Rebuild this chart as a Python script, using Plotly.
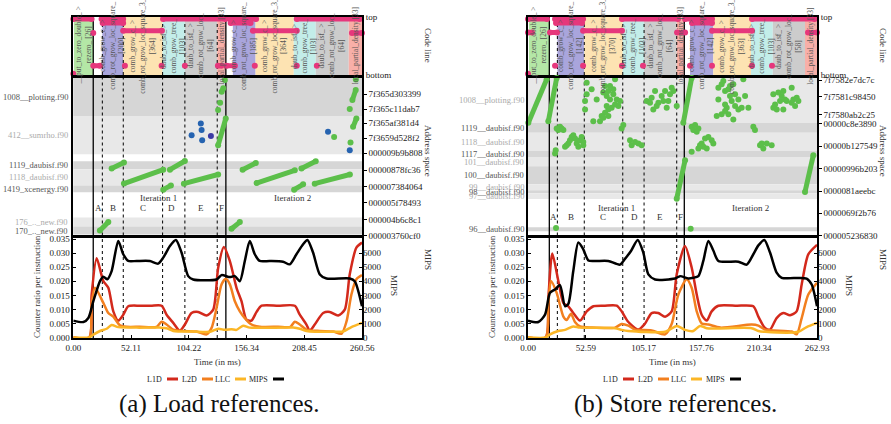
import plotly.graph_objects as go

W, H = 891, 424
FONT = "Liberation Serif"

# ======================= DATA =======================
# ---------- (a) Load references ----------
L_TMAX = 260.56
L_XTICKS = [0.00, 52.11, 104.22, 156.34, 208.45, 260.56]

L_L1D_T = [0, 14.4, 16.5, 21.1, 27.1, 31.6, 36.1, 40.6, 45.1, 49.6, 60, 70, 79.7, 84.2, 90.2, 96.2, 100.7, 106.7,
           112.7, 120.3, 126.3, 130.8, 135.9, 141.3, 147.3, 151.8, 156.3, 160.8, 165.4, 169.9, 185, 199.9, 204.4,
           210.4, 213.4, 217.9, 225.5, 231.5, 239, 245, 249.5, 255.5, 260.56]
L_L1D_V = [0, 0, 0.015, 0.0282, 0.0201, 0.0177, 0.0093, 0.006, 0.0081, 0.0111, 0.0113, 0.0113, 0.0113, 0.0081,
           0.0052, 0.0024, 0.0046, 0.0087, 0.0091, 0.0078, 0.0099, 0.0249, 0.0322, 0.0272, 0.0177, 0.0129, 0.0063,
           0.006, 0.0091, 0.0113, 0.0113, 0.0113, 0.0081, 0.0046, 0.0024, 0.0046, 0.0087, 0.0091, 0.0078, 0.0099,
           0.0225, 0.032, 0.0338]
L_L2D_T = [0, 14.4, 16.5, 19.6, 27.1, 31.6, 36.1, 42.1, 48.1, 60, 75.2, 79.7, 84.2, 90.2, 99.2, 111.2, 120.3, 124.8,
           129.3, 133.8, 137.7, 141.3, 145.8, 150.3, 154.8, 160.8, 168.3, 185, 196, 199.9, 204.4, 210.4, 222.5,
           234.5, 242, 246.6, 251, 255.5, 260.56]
L_L2D_V = [0, 0, 0.012, 0.0177, 0.0123, 0.0087, 0.0074, 0.0043, 0.0038, 0.0038, 0.0038, 0.0056, 0.0046, 0.0028,
           0.0023, 0.0021, 0.0011, 0.0034, 0.0105, 0.0189, 0.0209, 0.0189, 0.0129, 0.0093, 0.0069, 0.0046, 0.0038,
           0.0038, 0.0038, 0.0056, 0.0046, 0.0028, 0.0023, 0.0021, 0.0013, 0.0057, 0.0153, 0.0207, 0.0222]
L_LLC_T = [0, 14.4, 18.1, 24.1, 30.1, 34.6, 40.6, 57.1, 78.2, 84.2, 90.2, 108.2, 123.3, 130.8, 136.8, 142.8, 147.3,
           153.3, 159.3, 198.4, 204.4, 210.4, 237.5, 243.5, 251, 260.56]
L_LLC_V = [0, 0, 0.001, 0.0023, 0.0031, 0.0044, 0.0037, 0.0035, 0.0035, 0.0033, 0.0023, 0.0021, 0.002, 0.0031,
           0.0027, 0.0029, 0.0027, 0.0042, 0.0035, 0.0035, 0.0031, 0.0023, 0.002, 0.0021, 0.0037, 0.0052]
L_MIPS_T = [0, 9.1, 13.6, 18.1, 24.1, 27.1, 30.7, 34.6, 40.6, 45.1, 49.6, 57.1, 69.1, 76.6, 81.2, 87.2, 92.6, 97.7,
            103.7, 108.2, 129.3, 133.8, 141.3, 145.8, 150.3, 154.8, 159.3, 163.8, 168.3, 177.3, 189.3, 195.3, 201.4,
            207.4, 211.3, 216.4, 222.5, 228.5, 249.5, 254, 260.56]
L_MIPS_V = [1200, 1100, 1390, 2580, 4010, 4330, 4150, 4730, 6880, 5930, 5450, 5450, 5450, 5260, 5690, 6520, 6950,
            6050, 4370, 4130, 4130, 4440, 4300, 4370, 4010, 5450, 6880, 5930, 5450, 5450, 5400, 5210, 5930, 6640,
            6950, 6050, 4490, 4200, 4200, 4010, 2220]

L_REG_T0 = [0.6, 26.2, 45.1, 80.6, 100.7, 129.9, 144.0, 164.5, 199.0, 218.8, 248.6]
L_REG_T1 = [18.0, 45.1, 80.6, 100.7, 129.9, 137.7, 164.5, 199.0, 218.8, 248.6, 260.56]
L_REG_KIND = ["g", "p", "o", "c", "k", "r", "p", "o", "c", "k", "r"]
L_REG_TEXT = ["__put_to_zero_double_ ><br>rezero_ [26]",
              "comb_grow_c_ ><br>comb_rot_grow_loc_square_<br>[200]",
              "comb_grow_c_ ><br>comb_rot_grow_loc_square_3_<br>[364]",
              "daub_to_isf_ ><br>comb_grow_tree_<br>[103]",
              "daub_to_isf_ ><br>comb_rot_grow_loc_<br>[64]",
              "local_partial_density [33]",
              "comb_grow_c_ ><br>comb_rot_grow_loc_square_<br>[185]",
              "comb_grow_c_ ><br>comb_rot_grow_loc_square_3_<br>[364]",
              "daub_to_isf_ ><br>comb_grow_tree_<br>[103]",
              "daub_to_isf_ ><br>comb_rot_grow_loc_<br>[64]",
              "local_partial_density [33]"]
L_SOLID = [18.0, 137.7]
L_DOTTED = [26.2, 45.1, 80.6, 100.7, 129.9]

L_PINK_T0 = [0, 18.0, 25.5, 26.5, 45.0, 81.0, 138.3, 141.6, 142.0, 162.1, 201.7, 251.5]
L_PINK_T1 = [16.5, 24.0, 45.0, 45.0, 80.0, 137.5, 145.8, 165.0, 160.0, 201.7, 258.5, 260.5]
L_PINK_LV = [0.96, 0.16, 0.96, 0.89, 0.76, 0.96, 0.16, 0.96, 0.89, 0.76, 0.96, 0.72]
L_PINKDOT_T = [0.0, 18.0, 46.6, 79.7, 100.7, 130.5, 133.5, 163.8, 201.7, 219.8]
L_PINKDOT_LV = [0.02, 0.72, 0.16, 0.16, 0.16, 0.16, 0.16, 0.16, 0.16, 0.16]

L_BAND_LO = [7.58, 5.16, 4.20, 3.18, 2.74, 0.57, 0.06]
L_BAND_HI = [10.03, 7.58, 4.71, 4.20, 3.18, 1.15, 0.57]
L_BAND_DARK = [True, False, True, False, True, False, True]
L_BAND_NAME = ["1008__plotting.f90", "412__sumrho.f90", "1119_daubisf.f90", "1118_daubisf.f90",
               "1419_xcenergy.f90", "176_.._new.f90", "170_.._new.f90"]
L_HEX = ["000003760cf0", "000004b6c8c1", "000005f78493", "000007384064", "00000878fc36", "000009b9b808",
         "7f3659d528f2", "7f365af381d4", "7f365c11dab7", "7f365d303399"]
L_HEX_POS = [0, 1.02, 2.10, 3.12, 4.14, 5.22, 6.18, 7.13, 8.03, 8.98]

L_STR_T0 = [34.6, 45.7, 87.2, 81.2, 99.8, 24.0, 142.8, 152.8, 165.4, 205.9, 199.3, 217.9, 130.7, 133.9, 252.5, 251.9]
L_STR_Y0 = [4.25, 3.30, 4.18, 2.91, 3.29, 0.32, 0.43, 4.18, 3.33, 4.25, 2.91, 3.29, 5.73, 9.13, 6.90, 8.60]
L_STR_T1 = [45.7, 81.2, 100.7, 88.1, 130.7, 31.6, 150.3, 164.7, 199.9, 218.8, 207.4, 249.6, 137.6, 135.4, 255.5, 254.9]
L_STR_Y1 = [4.63, 4.18, 4.73, 3.18, 3.87, 0.85, 0.85, 4.60, 4.14, 4.71, 3.25, 3.87, 7.43, 9.34, 7.43, 9.24]
L_DOT_T = [130.7, 132.5, 136.8, 250.2, 249.5, 255.0, 235.4]
L_DOT_Y = [7.96, 8.43, 9.87, 5.90, 8.03, 9.90, 6.26]
L_BLUE_T = [106.8, 115.1, 115.8, 116.3, 229.9, 249.5]
L_BLUE_Y = [6.37, 7.11, 6.69, 6.05, 6.58, 5.41]
L_INDIGO_T = [124.2]
L_INDIGO_Y = [6.31]

L_MARK_TXT = ["A", "B", "C", "D", "E", "F"]
L_MARK_T = [22.3, 35.8, 62.8, 89.0, 115.1, 134.1]
L_ITER_T = [77.3, 198.0]

# ---------- (b) Store references ----------
R_TMAX = 262.93
R_XTICKS = [0.00, 52.59, 105.17, 157.76, 210.34, 262.93]

R_L1D_T = [0, 16.1, 18.5, 22.1, 27.6, 32.2, 36.7, 41.2, 47.3, 53.4, 59.5, 70, 80.7, 85.2, 91.3, 100.4, 106.4, 112.5,
           118.5, 124.7, 130.7, 135.3, 142.8, 148.9, 153.5, 158, 162.6, 167.1, 173.2, 190, 205, 209.6, 215.6, 220.2,
           226.2, 232.3, 238.4, 244.4, 249, 255, 262.93]
R_L1D_V = [0, 0, 0.014, 0.0299, 0.0201, 0.0123, 0.0111, 0.0087, 0.006, 0.0093, 0.0111, 0.0113, 0.0113, 0.0093,
           0.0055, 0.0028, 0.0049, 0.0087, 0.0087, 0.0074, 0.0093, 0.0225, 0.0326, 0.0249, 0.0153, 0.0081, 0.006,
           0.0093, 0.0113, 0.0113, 0.0111, 0.0074, 0.0034, 0.0028, 0.0069, 0.0087, 0.0079, 0.0093, 0.0189, 0.0296,
           0.033]
R_L2D_T = [0, 16.1, 18.5, 20.9, 26.1, 32.2, 35.2, 39.1, 42.7, 47.3, 57.9, 79.2, 85.2, 91.3, 97.4, 112.5, 124.7,
           130.7, 136.8, 144.4, 148.9, 153.5, 158, 164.1, 175, 203.5, 209.6, 215.6, 239.9, 244.4, 249, 255, 262.93]
R_L2D_V = [0, 0, 0.012, 0.0201, 0.0159, 0.0074, 0.0062, 0.0084, 0.0055, 0.0039, 0.0035, 0.0035, 0.0048, 0.0042,
           0.0028, 0.0025, 0.0011, 0.0048, 0.0153, 0.0207, 0.0177, 0.0093, 0.005, 0.0046, 0.0035, 0.0046, 0.0042,
           0.0028, 0.0021, 0.0011, 0.0069, 0.0153, 0.0195]
R_LLC_T = [0, 16.1, 20, 27.6, 33.7, 41.2, 47.3, 79.2, 85.2, 91.3, 124.7, 135.3, 142.8, 150.4, 156.5, 162.6, 203.5,
           209.6, 215.6, 246, 253.5, 262.93]
R_LLC_V = [0, 0, 0.0011, 0.0023, 0.0027, 0.0039, 0.0035, 0.0033, 0.0027, 0.0023, 0.002, 0.0041, 0.0027, 0.0023,
           0.0041, 0.0033, 0.0033, 0.0023, 0.002, 0.002, 0.0037, 0.0052]
R_MIPS_T = [0, 9.4, 15.5, 20, 24.6, 29.1, 33.7, 36.7, 41.2, 45.8, 50.3, 54.9, 61, 73, 83.7, 88.2, 93.7, 99.8, 104.9,
            109.5, 115.6, 133.8, 138.3, 145.9, 150.4, 155, 159.5, 164.1, 168.6, 173.2, 191.4, 199, 205, 209.6, 215,
            220.2, 226.2, 230.8, 253.5, 258.1, 262.93]
R_MIPS_V = [1200, 1100, 1625, 3180, 3420, 3730, 2220, 2400, 4730, 6760, 6280, 5490, 5450, 5450, 5190, 5600, 6160,
            6950, 6050, 4490, 4130, 4200, 4370, 4200, 4250, 4370, 5450, 6880, 6200, 5450, 5400, 5190, 5930, 6560,
            6950, 6050, 4620, 4250, 4200, 3770, 2220]

R_REG_T0 = [0.9, 26.7, 51.2, 86.2, 105.6, 135.3, 147.4, 168.6, 202.9, 222.7, 252.0]
R_REG_T1 = [19.1, 51.2, 86.2, 105.6, 135.3, 142.2, 168.6, 202.9, 222.7, 252.0, 262.93]
R_REG_KIND = ["g", "p", "o", "c", "k", "r", "p", "o", "c", "k", "r"]
R_REG_TEXT = ["__put_to_zero_double_ ><br>rezero_ [26]",
              "comb_grow_c_ ><br>comb_rot_grow_loc_square_<br>[142]",
              "comb_grow_c_ ><br>comb_rot_grow_loc_square_3_<br>[370]",
              "daub_to_isf_ ><br>comb_grow_tree_<br>[103]",
              "daub_to_isf_ ><br>comb_rot_grow_loc_<br>[64]",
              "local_partial_density [33]",
              "comb_grow_c_ ><br>comb_rot_grow_loc_square_<br>[142]",
              "comb_grow_c_ ><br>comb_rot_grow_loc_square_3_<br>[363]",
              "daub_to_isf_ ><br>comb_grow_tree_<br>[103]",
              "daub_to_isf_ ><br>comb_rot_grow_loc_<br>[58]",
              "local_partial_density [33]"]
R_SOLID = [19.4, 142.2]
R_DOTTED = [26.7, 51.2, 86.2, 105.6, 135.3]

R_PINK_T0 = [0, 0, 20.0, 24.6, 25.5, 50.1, 85.5, 135.6, 142.9, 149.2, 167.4, 203.8, 254.8]
R_PINK_T1 = [17.3, 3.6, 26.4, 50.1, 49.2, 85.5, 136.5, 142.9, 167.4, 167.4, 203.8, 260.7, 262.9]
R_PINK_LV = [0.96, 0.73, 0.73, 0.96, 0.89, 0.76, 0.96, 0.73, 0.96, 0.89, 0.76, 0.96, 0.73]
R_PINKDOT_T = [0.0, 24.6, 50.1, 85.5, 104.6, 147.4, 167.4, 203.8, 222.0]
R_PINKDOT_LV = [0.02, 0.16, 0.16, 0.16, 0.16, 0.16, 0.16, 0.16, 0.16]

R_BAND_LO = [7.15, 6.52, 5.37, 4.99, 4.39, 3.25, 2.87, 2.69, 2.31, 0.27]
R_BAND_HI = [10.03, 7.15, 6.52, 5.37, 4.99, 4.39, 3.25, 2.87, 2.69, 0.53]
R_BAND_DARK = [False, True, False, True, False, True, False, True, False, True]
R_BAND_NAME = ["1008__plotting.f90", "1119__daubisf.f90", "1118__daubisf.f90", "1117__daubisf.f90",
               "101__daubisf.f90", "100__daubisf.f90", "99__daubisf.f90", "98__daubisf.f90", "97__daubisf.f90",
               "96__daubisf.f90"]
R_HEX = ["000005236830", "0000069f2b76", "0000081aeebc", "00000996b203", "00000b127549", "00000c8e3890",
         "7f7580ab2c25", "7f7581c98450", "7f7582e7dc7c"]
R_HEX_POS = [0, 1.42, 2.82, 4.25, 5.67, 7.11, 7.69, 8.81, 9.87]

R_STR_T0 = [0.3, 18.5, 141.3, 135.3, 252.0]
R_STR_Y0 = [7.15, 7.26, 7.15, 2.34, 2.76]
R_STR_T1 = [17.0, 26.1, 148.9, 142.9, 259.6]
R_STR_Y1 = [9.92, 10.0, 10.0, 4.78, 5.10]
R_DOT_T = [53.4, 57.9, 53.4, 51.9, 51.9, 59.4, 65.5, 68.5, 70.1, 71.6, 73.1, 74.6, 77.6, 79.2, 79.2, 80.7, 82.2, 83.7,
           73.1, 70.1, 67.0, 73.1, 62.5, 76.1, 77.6, 74.6, 71.6, 68.5,
           108.0, 112.5, 115.6, 114.0, 117.1, 121.6, 124.7, 127.7, 130.7, 132.2, 126.2, 123.1, 118.6, 111.0, 135.3,
           129.2,
           173.2, 173.2, 176.2, 177.7, 179.3, 182.3, 183.8, 180.8, 179.3, 185.3, 186.8, 188.4, 188.4, 191.4, 194.4,
           195.9, 197.5, 200.5, 171.7, 176.2, 182.3, 186.8, 179.3, 183.8, 191.4,
           223.2, 227.8, 230.8, 232.3, 229.3, 224.8, 223.2, 226.3, 232.3, 235.4, 239.9, 241.4, 244.5, 246.0, 243.0,
           239.9, 233.8,
           27.6, 29.1, 32.2, 30.6, 26.1,
           33.7, 35.2, 36.7, 38.2, 39.7, 41.2, 42.8, 44.3, 45.8, 47.3, 48.8, 50.3, 50.3,
           24.6, 25.2, 86.7, 85.2, 92.8, 94.3, 97.4, 100.4, 103.4,
           148.9, 152.0, 155.0, 150.4, 153.5,
           155.0, 158.0, 161.1, 164.1, 167.1, 168.6, 162.6, 159.6, 156.5,
           148.9, 205.0, 206.5, 211.1, 214.1, 217.2, 221.7, 212.6,
           25.5, 148.0]
R_DOT_Y = [9.70, 9.28, 8.96, 8.54, 8.00, 7.26, 7.26, 9.07, 9.49, 8.85, 9.17, 8.64, 8.96, 9.92, 8.32, 8.64, 8.22, 8.54,
           8.00, 7.79, 7.58, 7.58, 8.64, 8.11, 9.28, 9.49, 8.22, 7.47,
           8.54, 8.75, 9.17, 8.00, 8.22, 8.85, 9.17, 8.54, 9.38, 9.17, 8.11, 8.54, 8.43, 8.43, 8.22, 8.96,
           9.38, 8.64, 9.60, 9.81, 9.17, 9.28, 9.49, 8.11, 8.32, 8.54, 9.60, 8.96, 8.22, 8.00, 8.11, 9.92, 8.85,
           8.11, 7.58, 7.69, 7.69, 7.37, 7.90, 8.85, 8.64,
           8.96, 9.07, 8.85, 9.17, 8.54, 8.32, 8.11, 8.00, 8.00, 8.54, 8.43, 8.64, 8.75, 8.54, 8.22, 9.38, 8.64,
           6.69, 6.90, 6.69, 6.79, 6.79,
           5.63, 5.73, 5.84, 6.05, 6.26, 6.37, 6.16, 5.84, 5.63, 6.05, 6.26, 5.94, 5.73,
           5.20, 5.41, 7.01, 6.79, 6.05, 5.73, 5.94, 5.84, 5.73,
           6.90, 7.01, 6.79, 6.69, 6.58,
           5.52, 5.84, 6.16, 6.26, 6.05, 5.84, 5.52, 5.63, 5.73,
           5.31, 6.90, 6.69, 5.73, 5.52, 5.84, 5.73, 5.84,
           0.47, 0.43]

R_MARK_TXT = ["A", "B", "C", "D", "E", "F"]
R_MARK_T = [23.0, 38.9, 68.5, 96.5, 120.1, 138.3]
R_ITER_T = [80.7, 202.6]

SERIES_NAMES = ["L1D", "L2D", "LLC", "MIPS"]

# ======================= STYLE =======================
REG_COLORS = {"g": "#b4e7a6", "p": "#a9a5dc", "o": "#fde3b2", "c": "#c3ede9", "k": "#cccccc", "r": "#f8afa8"}
SER_COLORS = ["#d3291c", "#f27f1f", "#fbb626", "#000000"]
GREEN = "#5cbf4a"
PINK = "#e6377c"
BLUE = "#2663b0"
INDIGO = "#3b3aa3"
BAND_DARK_C = "#d6d6d6"
BAND_LIGHT_C = "#e8e8e8"


def fx(px):
    return px / W


def fy(py):
    return 1 - py / H


def lk(a):
    return ("xaxis" if a[0] == "x" else "yaxis") + a[1:]


def ann(**kw):
    base = dict(showarrow=False, xanchor="center", yanchor="middle")
    base.update(kw)
    return base


Y_CODE = [fy(75), fy(16.7)]
Y_ADDR = [fy(235.5), fy(77.5)]
Y_CTR = [fy(338), fy(236.7)]

fig = go.Figure()
layout = dict(width=W, height=H, margin=dict(l=0, r=0, t=0, b=0, autoexpand=False), showlegend=False,
              paper_bgcolor="white", plot_bgcolor="white",
              font=dict(family=FONT, size=9, color="#222"))
shapes = []
annotations = []

frame = dict(showline=True, mirror=True, linecolor="black", linewidth=1.5, showgrid=False, zeroline=False,
             automargin=False)


def segs(t0, t1, y0, y1):
    xs, ys = [], []
    for a, b, c, d in zip(t0, t1, y0, y1):
        xs += [a, b, None]
        ys += [c, d, None]
    return xs, ys


panels = [
    dict(ids=("x", "y", "x2", "y2", "x3", "y3", "y4"), xl=73.3, xr=362.0, tmax=L_TMAX, xticks=L_XTICKS,
         series=[(L_L1D_T, L_L1D_V), (L_L2D_T, L_L2D_V), (L_LLC_T, L_LLC_V), (L_MIPS_T, L_MIPS_V)],
         reg=(L_REG_T0, L_REG_T1, L_REG_KIND, L_REG_TEXT), solid=L_SOLID, dotted=L_DOTTED,
         pink=(L_PINK_T0, L_PINK_T1, L_PINK_LV), pinkdot=(L_PINKDOT_T, L_PINKDOT_LV),
         bands=(L_BAND_LO, L_BAND_HI, L_BAND_DARK, L_BAND_NAME), hex=(L_HEX, L_HEX_POS),
         streaks=(L_STR_T0, L_STR_T1, L_STR_Y0, L_STR_Y1), dots=(L_DOT_T, L_DOT_Y),
         blue=(L_BLUE_T, L_BLUE_Y), indigo=(L_INDIGO_T, L_INDIGO_Y),
         marks=(L_MARK_TXT, L_MARK_T), iters=L_ITER_T, iter_y=2.36, mark_y=1.72,
         label_right=70, title_x=428, mips2_x=394, ylab_x=37, leg_x=[167, 202, 235, 273],
         caption="(a) Load references.", cap_x=219),
    dict(ids=("x4", "y5", "x5", "y6", "x6", "y7", "y8"), xl=528.0, xr=817.0, tmax=R_TMAX, xticks=R_XTICKS,
         series=[(R_L1D_T, R_L1D_V), (R_L2D_T, R_L2D_V), (R_LLC_T, R_LLC_V), (R_MIPS_T, R_MIPS_V)],
         reg=(R_REG_T0, R_REG_T1, R_REG_KIND, R_REG_TEXT), solid=R_SOLID, dotted=R_DOTTED,
         pink=(R_PINK_T0, R_PINK_T1, R_PINK_LV), pinkdot=(R_PINKDOT_T, R_PINKDOT_LV),
         bands=(R_BAND_LO, R_BAND_HI, R_BAND_DARK, R_BAND_NAME), hex=(R_HEX, R_HEX_POS),
         streaks=(R_STR_T0, R_STR_T1, R_STR_Y0, R_STR_Y1), dots=(R_DOT_T, R_DOT_Y),
         blue=([], []), indigo=([], []),
         marks=(R_MARK_TXT, R_MARK_T), iters=R_ITER_T, iter_y=1.74, mark_y=1.17,
         label_right=526, title_x=883, mips2_x=849, ylab_x=492, leg_x=[623, 658, 691, 730],
         caption="(b) Store references.", cap_x=675),
]

for P in panels:
    cx, cy, ax, ay, kx, ky, my = P["ids"]
    xdom = [fx(P["xl"]), fx(P["xr"])]
    T = P["tmax"]

    # ---- axes ----
    layout[lk(cx)] = dict(domain=xdom, range=[0, T], anchor=cy, showticklabels=False, ticks="", **frame)
    layout[lk(cy)] = dict(domain=Y_CODE, range=[0, 1], anchor=cx, side="right", tickvals=[0, 1],
                          ticktext=["bottom", "top"], ticks="", tickfont=dict(size=9, color="#222"), **frame)
    layout[lk(cx)]["linewidth"] = 2
    layout[lk(cy)]["linewidth"] = 2
    layout[lk(ax)] = dict(domain=xdom, range=[0, T], anchor=ay, showticklabels=False, ticks="", **frame)
    layout[lk(ay)] = dict(domain=Y_ADDR, range=[0, 10.03], anchor=ax, side="right",
                          tickvals=P["hex"][1], ticktext=P["hex"][0], ticks="outside", ticklen=3,
                          tickcolor="black", tickfont=dict(size=9, color="#222"), **frame)
    layout[lk(kx)] = dict(domain=xdom, range=[0, T], anchor=ky, tickvals=P["xticks"],
                          ticktext=["%.2f" % v for v in P["xticks"]], ticks="inside", ticklen=3,
                          tickcolor="black", tickfont=dict(size=9, color="#222"), **frame)
    layout[lk(ky)] = dict(domain=Y_CTR, range=[-0.0002, 0.0359], anchor=kx,
                          tickvals=[0, 0.005, 0.01, 0.015, 0.02, 0.025, 0.03, 0.035],
                          ticktext=["%.3f" % v for v in [0, 0.005, 0.01, 0.015, 0.02, 0.025, 0.03, 0.035]],
                          ticks="inside", ticklen=3, tickcolor="black", tickfont=dict(size=9, color="#222"),
                          **frame)
    layout[lk(my)] = dict(overlaying=ky, anchor=kx, side="right", range=[-40, 7180],
                          tickvals=[0, 1000, 2000, 3000, 4000, 5000, 6000], ticks="inside", ticklen=3,
                          tickcolor="black", showgrid=False, zeroline=False, showline=False, automargin=False,
                          tickfont=dict(size=9, color="#222"))

    # ---- code strip regions ----
    t0s, t1s, kinds, texts = P["reg"]
    for a, b, k, txt in zip(t0s, t1s, kinds, texts):
        shapes.append(dict(type="rect", xref=cx, yref=cy + " domain", x0=a, x1=b, y0=0, y1=1,
                           fillcolor=REG_COLORS[k], line=dict(width=0), layer="below"))
        annotations.append(ann(xref=cx, yref=cy, x=(a + b) / 2, y=0.5, text=txt, textangle=-90,
                               font=dict(size=7.5, color="#555"), align="center"))

    # ---- address bands ----
    lo, hi, dark, names = P["bands"]
    for a, b, d, nm in zip(lo, hi, dark, names):
        shapes.append(dict(type="rect", xref=ax + " domain", yref=ay, x0=0, x1=1, y0=a, y1=b,
                           fillcolor=BAND_DARK_C if d else BAND_LIGHT_C, line=dict(width=0), layer="below"))
        annotations.append(ann(xref="paper", yref=ay, x=fx(P["label_right"]), y=(a + b) / 2, text=nm,
                               xanchor="right", font=dict(size=8.5, color="#555" if d else "#aaa")))

    # ---- vertical markers ----
    for ids in ((cx, cy), (ax, ay), (kx, ky)):
        for t in P["dotted"]:
            shapes.append(dict(type="line", xref=ids[0], yref=ids[1] + " domain", x0=t, x1=t, y0=0, y1=1,
                               line=dict(color="black", width=1, dash="dot"), layer="below"))
        for t in P["solid"]:
            shapes.append(dict(type="line", xref=ids[0], yref=ids[1] + " domain", x0=t, x1=t, y0=0, y1=1,
                               line=dict(color="black", width=1.3), layer="below"))

    # ---- code strip pink traces ----
    xs, ys = segs(P["pink"][0], P["pink"][1], P["pink"][2], P["pink"][2])
    fig.add_trace(go.Scatter(x=xs, y=ys, mode="lines+markers", xaxis=cx, yaxis=cy,
                             line=dict(color=PINK, width=5), marker=dict(color=PINK, size=6),
                             hoverinfo="skip", cliponaxis=False))
    fig.add_trace(go.Scatter(x=P["pinkdot"][0], y=P["pinkdot"][1], mode="markers", xaxis=cx, yaxis=cy,
                             marker=dict(color=PINK, size=6), hoverinfo="skip", cliponaxis=False))

    # ---- address traces ----
    xs, ys = segs(*P["streaks"])
    fig.add_trace(go.Scatter(x=xs, y=ys, mode="lines+markers", xaxis=ax, yaxis=ay,
                             line=dict(color=GREEN, width=5), marker=dict(color=GREEN, size=6),
                             hoverinfo="skip", cliponaxis=False))
    fig.add_trace(go.Scatter(x=P["dots"][0], y=P["dots"][1], mode="markers", xaxis=ax, yaxis=ay,
                             marker=dict(color=GREEN, size=6), hoverinfo="skip", cliponaxis=False))
    if P["blue"][0]:
        fig.add_trace(go.Scatter(x=P["blue"][0], y=P["blue"][1], mode="markers", xaxis=ax, yaxis=ay,
                                 marker=dict(color=BLUE, size=6), hoverinfo="skip"))
        fig.add_trace(go.Scatter(x=P["indigo"][0], y=P["indigo"][1], mode="markers", xaxis=ax, yaxis=ay,
                                 marker=dict(color=INDIGO, size=6), hoverinfo="skip"))

    # ---- A..F and iterations ----
    for txt, t in zip(*P["marks"]):
        annotations.append(ann(xref=ax, yref=ay, x=t, y=P["mark_y"], text=txt,
                               font=dict(size=9, color="#333")))
    for i, t in enumerate(P["iters"]):
        annotations.append(ann(xref=ax, yref=ay, x=t, y=P["iter_y"], text="Iteration %d" % (i + 1),
                               font=dict(size=9, color="#333")))

    # ---- counters ----
    for i, (ts, vs) in enumerate(P["series"]):
        fig.add_trace(go.Scatter(x=ts, y=vs, mode="lines", xaxis=kx, yaxis=(my if i == 3 else ky),
                                 name=SERIES_NAMES[i], line=dict(color=SER_COLORS[i], width=2.5,
                                                                 shape="spline", smoothing=0.7),
                                 hoverinfo="skip"))

    # ---- titles ----
    tf = dict(size=9, color="#333")
    annotations.append(ann(xref="paper", yref="paper", x=fx(P["title_x"]), y=fy(45), text="Code line",
                           textangle=90, font=tf))
    annotations.append(ann(xref="paper", yref="paper", x=fx(P["title_x"]), y=fy(151), text="Address space",
                           textangle=90, font=tf))
    annotations.append(ann(xref="paper", yref="paper", x=fx(P["title_x"]), y=fy(259), text="MIPS",
                           textangle=90, font=tf))
    annotations.append(ann(xref="paper", yref="paper", x=fx(P["mips2_x"]), y=fy(285), text="MIPS",
                           textangle=90, font=tf))
    annotations.append(ann(xref="paper", yref="paper", x=fx(P["ylab_x"]), y=fy(287),
                           text="Counter ratio per instruction", textangle=-90, font=tf))
    annotations.append(ann(xref="paper", yref="paper", x=(xdom[0] + xdom[1]) / 2, y=fy(362),
                           text="Time (in ms)", font=tf))

    # ---- legend (text then line sample) ----
    for i, lx in enumerate(P["leg_x"]):
        annotations.append(ann(xref="paper", yref="paper", x=fx(lx - 3), y=fy(379), text=SERIES_NAMES[i],
                               xanchor="right", font=dict(size=8, color="#222")))
        shapes.append(dict(type="line", xref="paper", yref="paper", x0=fx(lx), x1=fx(lx + 11),
                           y0=fy(379), y1=fy(379), line=dict(color=SER_COLORS[i], width=3)))

    annotations.append(ann(xref="paper", yref="paper", x=fx(P["cap_x"]), y=fy(404), text=P["caption"],
                           font=dict(size=25, color="#111")))

layout["shapes"] = shapes
layout["annotations"] = annotations
fig.update_layout(**layout)
fig.write_html("out.html", config={"displayModeBar": False},
               post_script="document.body.style.margin='0px';document.body.style.overflow='hidden';")
